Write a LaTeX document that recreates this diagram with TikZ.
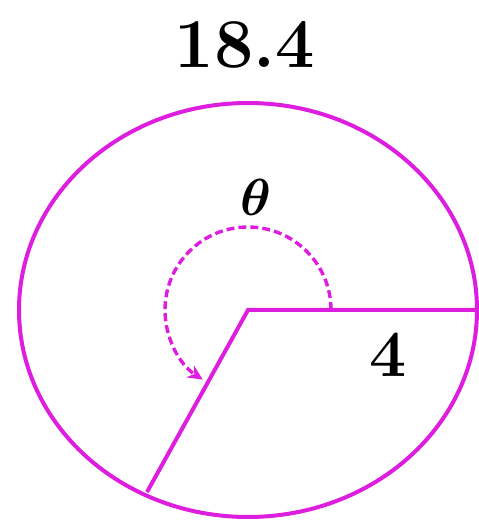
\documentclass[tikz,border=0pt]{standalone}
\usepackage{amsmath,bm}
\usetikzlibrary{arrows.meta}
\definecolor{mag}{RGB}{222,30,222}
\begin{document}
\begin{tikzpicture}[x=1pt,y=1pt,
  edge/.style={draw=mag,line width=4pt},
  anglearc/.style={draw=mag,line width=3.4pt,dash pattern=on 8pt off 4pt,-{Stealth[length=15pt,width=14pt]}},
  lab/.style={text=black,inner sep=0pt}]
\useasboundingbox (0,0) rectangle (479,525);
\coordinate (C) at (248,215);
\coordinate (R1) at (477,215);
\coordinate (R2) at (147,33);
\draw[edge] (C) ellipse [x radius=229, y radius=207];
\draw[edge,line join=miter] (R1) -- (C) -- (R2);
\draw[anglearc] ([shift={(0:83)}]C) arc [start angle=0, end angle=237, radius=83];
\node[lab,font=\fontsize{70}{80}\selectfont\bfseries] (title) at (245,480) {18.4};
\node[lab,scale=5.2] (theta) at (256,328) {$\bm{\theta}$};
\node[lab,font=\fontsize{66}{72}\selectfont\bfseries] (r) at (388,170) {4};
\end{tikzpicture}
\end{document}
